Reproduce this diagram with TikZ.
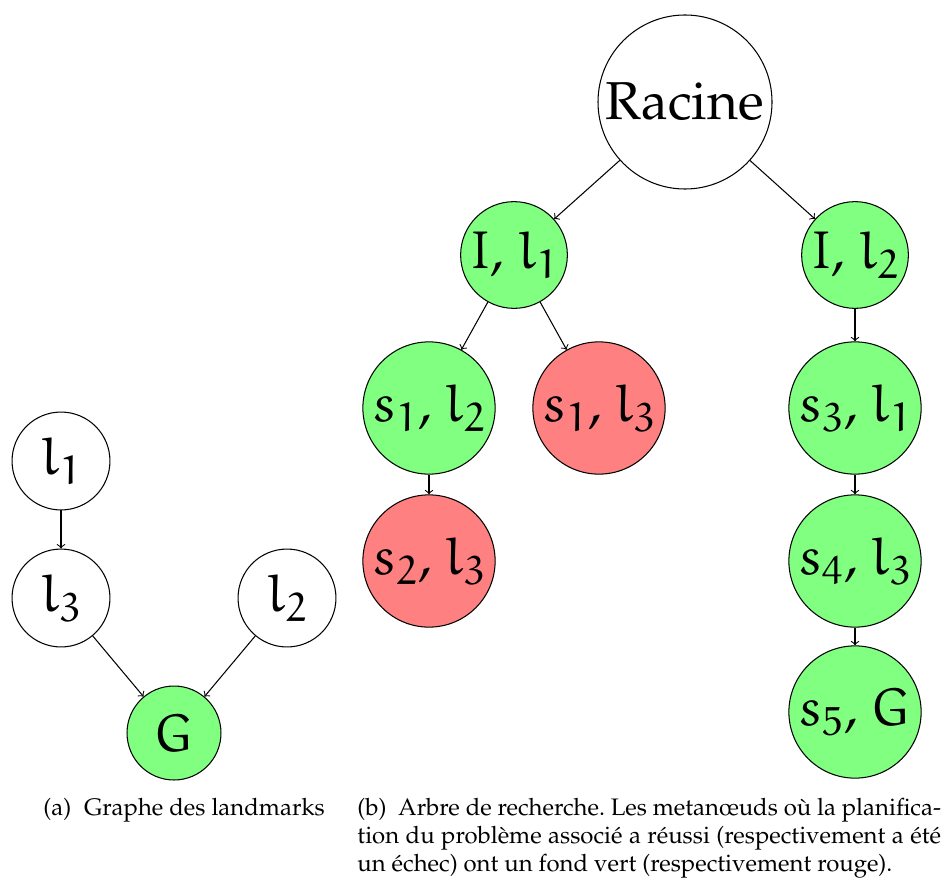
\documentclass[tikz,border=0pt]{standalone}
\usepackage[T1]{fontenc}
\usepackage{mathpazo}
\IfFileExists{euler.sty}{\usepackage{euler}}{}
\frenchspacing
\newlength{\capwd}
\setlength{\capwd}{251.5pt}
\begin{document}
\begin{tikzpicture}[x=0.431pt,y=-0.431pt,
  gn/.style={circle,draw,inner sep=0pt,line width=0.45pt,
    font=\fontsize{23}{28}\selectfont},
  ok/.style={fill=green!50},
  ko/.style={fill=red!50},
  lmk/.style={gn,minimum size=42.2pt},
  goal/.style={gn,minimum size=40.5pt},
  root/.style={gn,minimum size=75pt},
  lvl/.style={gn,minimum size=46pt},
  meta/.style={gn,minimum size=57pt},
  arr/.style={->,line width=0.45pt},
  captext/.style={inner sep=0pt,anchor=base west,font=\fontsize{10.3}{12.1}\selectfont}]
\useasboundingbox (0,0) rectangle (944,881);

% (a) landmark graph
\node[lmk] (l1) at (61,461) {$l_1$};
\node[lmk] (l3) at (61,598) {$l_3$};
\node[lmk] (l2) at (287,598) {$l_2$};
\node[goal,ok] (G) at (174,733) {$G$};
\draw[arr] (l1) -- (l3);
\draw[arr] (l3) -- (G);
\draw[arr] (l2) -- (G);

% (b) search tree
\node[root] (R) at (685,102) {Racine};
\node[lvl,ok] (I1) at (514,255) {$I$, $l_1$};
\node[lvl,ok] (I2) at (855,255) {$I$, $l_2$};
\node[meta,ok] (s12) at (429,408) {$s_1$, $l_2$};
\node[meta,ko] (s13) at (599,408) {$s_1$, $l_3$};
\node[meta,ko] (s23) at (429,561) {$s_2$, $l_3$};
\node[meta,ok] (s31) at (855,408) {$s_3$, $l_1$};
\node[meta,ok] (s43) at (855,561) {$s_4$, $l_3$};
\node[meta,ok] (s5G) at (855,712) {$s_5$, $G$};
\draw[arr] (R) -- (I1);
\draw[arr] (R) -- (I2);
\draw[arr] (I1) -- (s12);
\draw[arr] (I1) -- (s13);
\draw[arr] (s12) -- (s23);
\draw[arr] (I2) -- (s31);
\draw[arr] (s31) -- (s43);
\draw[arr] (s43) -- (s5G);

% captions: full lines are justified to the caption width
\node[captext] (capa) at (43,815) {(a)\hspace{5.5pt}Graphe des landmarks};
\node[captext] (capb) at (357,815) {\vtop{%
  \hbox to \capwd{(b)\hspace{5pt}Arbre de recherche. Les metan\oe uds o\`u la planifica-}
  \hbox to \capwd{tion du probl\`eme associ\'e a r\'eussi (respectivement a \'et\'e}
  \hbox{un \'echec) ont un fond vert (respectivement rouge).}}};
\end{tikzpicture}
\end{document}
